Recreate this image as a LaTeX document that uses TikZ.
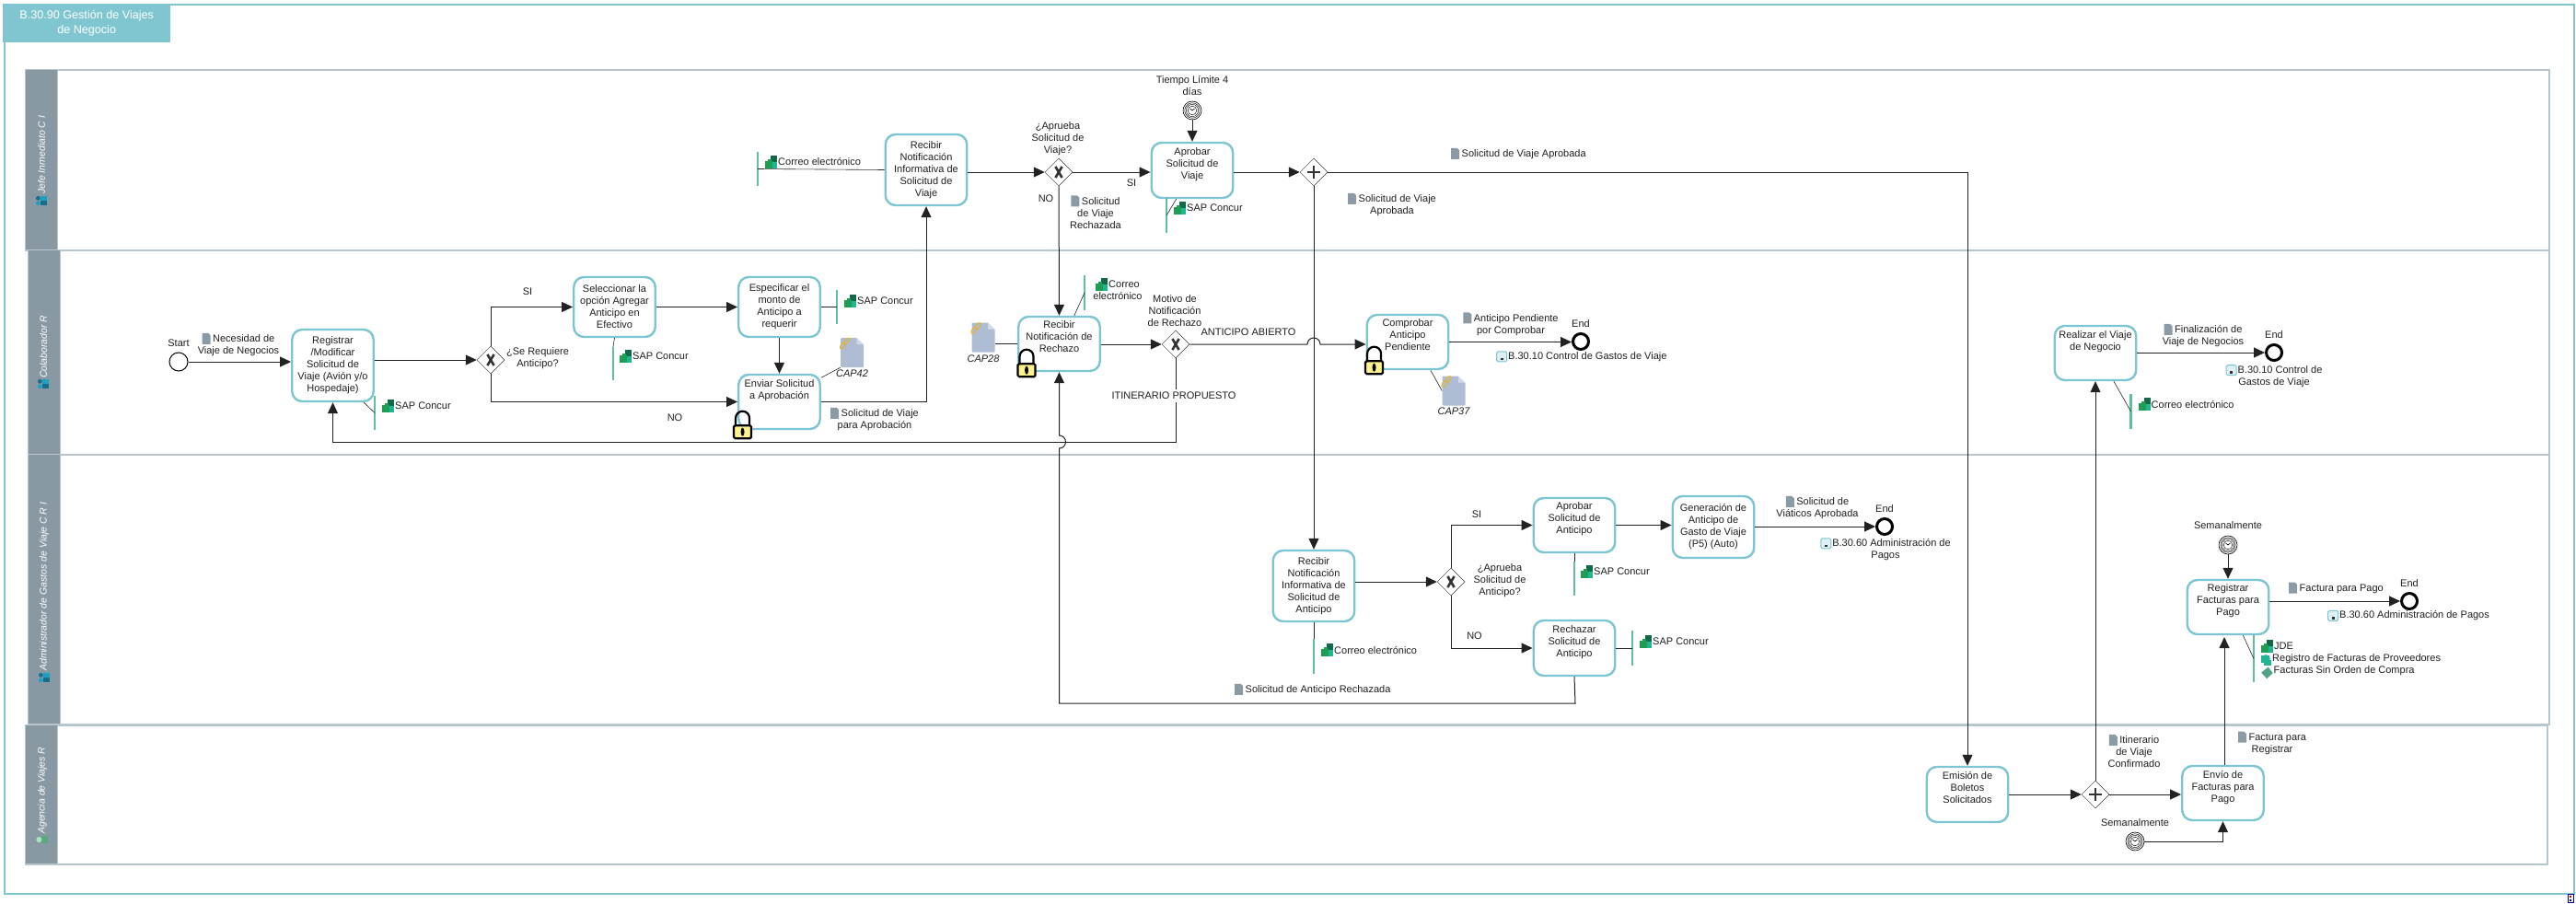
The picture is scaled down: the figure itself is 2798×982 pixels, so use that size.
\documentclass[tikz,border=0pt]{standalone}
\usepackage{fontspec}
\setmainfont{Liberation Sans}
\usetikzlibrary{shapes.geometric, arrows.meta, positioning, calc}
\definecolor{frameteal}{HTML}{7FC6D0}
\definecolor{taskteal}{HTML}{7CC5D2}
\definecolor{laneline}{HTML}{B7C6CC}
\definecolor{lanehead}{HTML}{8899A3}
\definecolor{docgray}{HTML}{8A9BA6}
\definecolor{barGreen}{HTML}{5FBF9F}
\definecolor{softgreen}{HTML}{1E9E55}
\definecolor{softdark}{HTML}{12694A}
\definecolor{softlight}{HTML}{22B592}
\definecolor{capblue}{HTML}{AEBCD4}
\definecolor{capgold}{HTML}{E8B422}
\definecolor{lockyellow}{HTML}{FFF28C}
\definecolor{flowgray}{HTML}{222222}
\definecolor{personblue}{HTML}{1F9FC4}
\definecolor{persongreen}{HTML}{6FD39C}
\newcommand{\lblfont}{\fontsize{11}{13}\selectfont\color{black!88}}
% small marks set inside the labels
\newcommand{\docmark}{\smash{\tikz[x=1pt,y=1pt,baseline=2pt]{\fill[docgray] (0,0) -- (0,12) -- (6.5,12) -- (9,9.5) -- (9,0) -- cycle;}}\hspace{2.5pt}}
\newcommand{\softmark}{\smash{\tikz[x=1pt,y=1pt,baseline=3pt]{
  \fill[softdark] (6,7) rectangle (13,14);
  \fill[softgreen] (0,0) rectangle (8,8); \fill[softgreen] (3,8) rectangle (7,10);
  \fill[softlight] (8,0) rectangle (13,7);}}\hspace{1pt}}
\newcommand{\rulemark}{\smash{\tikz[x=1pt,y=1pt,baseline=3pt]{
  \fill[softlight] (0,2) rectangle (9,10); \fill[softlight] (3,-1) rectangle (11,5);
  \fill[softlight] (5,6) circle (4.5pt);}}\hspace{1pt}}
\newcommand{\policymark}{\smash{\tikz[x=1pt,y=1pt,baseline=3pt]{
  \fill[barGreen!85!black] (6.5,-2.5) -- (13,3.5) -- (8,10) -- (0.5,4) -- cycle;}}\hspace{1pt}}
\newcommand{\linkmark}{\smash{\tikz[x=1pt,y=1pt,baseline=2.5pt]{
  \draw[taskteal, fill=taskteal!25, line width=1pt, rounded corners=1.5pt] (0,0) rectangle (11,11);
  \fill[black!80] (4.2,1.5) rectangle (6.8,4.2);}}\hspace{1pt}}
\tikzset{
  task/.style={
    rectangle, rounded corners=11pt, draw=taskteal, line width=2.4pt, fill=white,
    minimum width=88.5pt, minimum height=#1, inner sep=1pt, align=center, font=\lblfont
  },
  lbl/.style={inner sep=0pt, align=center, font=\lblfont},
  flow/.style={-{Triangle[length=12pt,width=11pt]}, line width=1pt, color=flowgray},
  assoc/.style={line width=0.6pt, color=black!85},
  annobar/.style={rectangle, fill=barGreen, minimum width=2.2pt, minimum height=#1, inner sep=0pt},
  gate/.style={diamond, aspect=1, draw=black!80, line width=0.5pt, fill=white, minimum size=30pt, inner sep=0pt},
  gatex/.style={gate, path picture={
    \draw[line width=2.6pt] ($(path picture bounding box.center)+(-3.6pt,-6pt)$) -- ++(7.2pt,12pt);
    \draw[line width=2.6pt] ($(path picture bounding box.center)+(3.6pt,-6pt)$) -- ++(-7.2pt,12pt);}},
  gateplus/.style={gate, path picture={
    \draw[line width=2.2pt] ($(path picture bounding box.center)+(-7pt,0pt)$) -- ++(14pt,0pt);
    \draw[line width=2.2pt] ($(path picture bounding box.center)+(0pt,-7pt)$) -- ++(0pt,14pt);}},
  startevent/.style={circle, draw=black, line width=1pt, fill=white, minimum size=20pt, inner sep=0pt},
  endevent/.style={circle, draw=black, line width=3pt, fill=white, minimum size=17pt, inner sep=0pt},
  timer/.style={circle, draw=black, line width=0.6pt, fill=white, minimum size=20pt, inner sep=0pt, path picture={
    \foreach \rr in {8.2,6.6} \draw[line width=0.45pt] (path picture bounding box.center) circle (\rr pt);
    \draw[line width=0.45pt, fill=white] (path picture bounding box.center) circle (4.8pt);
    \draw[line width=0.6pt] ($(path picture bounding box.center)+(-2.5pt,2pt)$) -- (path picture bounding box.center) -- ++(2.5pt,2pt);}},
  capdoc/.style={rectangle, fill=capblue, rounded corners=1pt, minimum width=25pt, minimum height=32pt, inner sep=0pt},
  lanebody/.style={rectangle, draw=laneline, line width=1.6pt, anchor=north west, inner sep=0pt},
  laneheader/.style={rectangle, fill=lanehead, draw=laneline, line width=0.8pt, anchor=north west, inner sep=0pt, minimum width=35pt},
  lanename/.style={rotate=90, anchor=west, inner sep=0pt, text=white, font=\fontsize{10.5}{13}\selectfont\itshape},
  capmark/.pic={
    \fill[white] (4.5,-16.5) -- (13,-16.5) -- (13,-8) -- cycle;
    \fill[capblue!55!white] (5,-16) -- (5,-9) -- (12.5,-9) -- cycle;
    \draw[capgold, line width=1pt, shift={(-8,-10)}, rotate=50] (-3.4pt,0pt) ellipse (4pt and 2.1pt);
    \draw[capgold, line width=1pt, shift={(-8,-10)}, rotate=50] (3.4pt,0pt) ellipse (4pt and 2.1pt);
  },
  lockmark/.pic={
    \draw[black, line width=2.2pt] (-7.5,1) -- (-7.5,-8) arc[start angle=180, end angle=0, radius=7.5pt] -- (7.5,1);
    \draw[black, fill=lockyellow, line width=2.2pt, rounded corners=1.5pt] (-9.5,0) rectangle (9.5,14);
    \fill[black] (0,7) ellipse (2pt and 4.5pt);
  },
  twinmark/.pic={
    \fill[personblue] (-1,-5) rectangle (6,-0.4); \fill[personblue!70!black] (-3.6,-2.7) circle (2.4pt);
    \fill[personblue!70!black] (-1,0.4) rectangle (6,5); \fill[personblue] (-3.6,2.7) circle (2.4pt);
  },
  singlemark/.pic={
    \fill[persongreen!80!black] (-1,-4) rectangle (6,4); \fill[persongreen!60!white] (-3.6,0) circle (3pt);
  }
}

\begin{document}
\begin{tikzpicture}[x=1pt, y=-1pt]
  \useasboundingbox (0,0) rectangle (2798,982);

  % Outer frame and title
  \node[rectangle, draw=frameteal, line width=2.4pt, anchor=north west, minimum width=2791pt, minimum height=966pt, inner sep=0pt] (frame) at (4,4) {};
  \node[rectangle, fill=frameteal, anchor=north west, minimum width=182pt, minimum height=42pt, align=center, text=white, inner sep=0pt,
    font=\fontsize{12.6}{16}\selectfont] (title) at (3,4) {B.30.90 Gestión de Viajes\\de Negocio};

  % Lanes
  \node[lanebody, minimum width=2741pt, minimum height=196pt] (lanejefe) at (27,75) {};
  \node[laneheader, minimum height=196pt] (headjefe) at (27,75) {};
  \node[lanebody, minimum width=2738pt, minimum height=222pt] (lanecolab) at (30,271) {};
  \node[laneheader, minimum height=222pt] (headcolab) at (30,271) {};
  \node[lanebody, minimum width=2738pt, minimum height=293pt] (laneadmin) at (30,493) {};
  \node[laneheader, minimum height=293pt] (headadmin) at (30,493) {};
  \node[lanebody, minimum width=2739pt, minimum height=151pt] (laneagencia) at (27,787) {};
  \node[laneheader, minimum height=151pt] (headagencia) at (27,787) {};

  \node[lanename] (namejefe) at (45,211) {Jefe Inmediato C I};
  \pic at (45,218) {twinmark};
  \node[lanename] (namecolab) at (47,411) {Colaborador R};
  \pic at (47,417) {twinmark};
  \node[lanename] (nameadmin) at (48,729) {Administrador de Gastos de Viaje C R I};
  \pic at (48,736) {twinmark};
  \node[lanename] (nameagencia) at (46,906) {Agencia de Viajes R};
  \pic at (46,912) {singlemark};

  % Tasks
  \node[task=78pt] (registrar) at (361.5,397) {Registrar\\/Modificar\\Solicitud de\\Viaje (Avión y/o\\Hospedaje)};
  \node[task=65pt] (seleccionar) at (667.5,333.5) {Seleccionar la\\opción Agregar\\Anticipo en\\Efectivo};
  \node[task=65pt] (especificar) at (846.5,333.5) {Especificar el\\monto de\\Anticipo a\\requerir};
  \node[task=59pt, text depth=27pt] (enviar) at (846.5,436.5) {Enviar Solicitud\\a Aprobación};
  \node[task=77pt] (recibirinfo) at (1006,184.5) {Recibir\\Notificación\\Informativa de\\Solicitud de\\Viaje};
  \node[task=60pt, text depth=15pt] (aprobarviaje) at (1295,185) {Aprobar\\Solicitud de\\Viaje};
  \node[task=59pt, text depth=15pt] (recibirrechazo) at (1150.5,373.5) {Recibir\\Notificación de\\Rechazo};
  \node[task=59pt, text depth=15pt] (comprobar) at (1529,371.5) {Comprobar\\Anticipo\\Pendiente};
  \node[task=77pt] (recibiranticipo) at (1427,636.5) {Recibir\\Notificación\\Informativa de\\Solicitud de\\Anticipo};
  \node[task=59pt, text depth=15pt] (aprobaranticipo) at (1710,570.5) {Aprobar\\Solicitud de\\Anticipo};
  \node[task=67pt] (generacion) at (1861,572.5) {Generación de\\Anticipo de\\Gasto de Viaje\\(P5) (Auto)};
  \node[task=60pt, text depth=15pt] (rechazar) at (1710,704) {Rechazar\\Solicitud de\\Anticipo};
  \node[task=59pt, text depth=27pt] (realizar) at (2276,383.5) {Realizar el Viaje\\de Negocio};
  \node[task=59pt, text depth=15pt] (registrarfacturas) at (2420,659.5) {Registrar\\Facturas para\\Pago};
  \node[task=60pt, text depth=15pt] (emision) at (2137,863) {Emisión de\\Boletos\\Solicitados};
  \node[task=59pt, text depth=15pt] (envio) at (2414.5,861.5) {Envío de\\Facturas para\\Pago};

  % Gateways
  \node[gatex] (requiere) at (533,391) {};
  \node[gatex] (apruebaviaje) at (1150,187) {};
  \node[gateplus] (parviaje) at (1427,187) {};
  \node[gatex] (motivo) at (1277,374) {};
  \node[gatex] (apruebaanticipo) at (1576,632) {};
  \node[gateplus] (parboletos) at (2276,863) {};

  % Events
  \node[startevent] (start) at (194,393) {};
  \node[lbl, above=6pt of start] (startlbl) {Start};
  \node[endevent] (endcomprobar) at (1717,371) {};
  \node[lbl, above=5pt of endcomprobar] (endcomprobarlbl) {End};
  \node[endevent] (endgeneracion) at (2047,572) {};
  \node[lbl, above=5pt of endgeneracion] (endgeneracionlbl) {End};
  \node[endevent] (endrealizar) at (2470,383) {};
  \node[lbl, above=5pt of endrealizar] (endrealizarlbl) {End};
  \node[endevent] (endfacturas) at (2617,653) {};
  \node[lbl, above=5pt of endfacturas] (endfacturaslbl) {End};
  \node[timer] (timerviaje) at (1295,120) {};
  \node[lbl, above=6pt of timerviaje] (timerviajelbl) {Tiempo Límite 4\\días};
  \node[timer] (timerfacturas) at (2420,592) {};
  \node[lbl, above=7pt of timerfacturas] (timerfacturaslbl) {Semanalmente};
  \node[timer] (timerenvio) at (2319,914) {};
  \node[lbl, above=6pt of timerenvio] (timerenviolbl) {Semanalmente};

  % Sequence flows
  \draw[flow] (start.east) -- (start.east -| registrar.west);
  \draw[flow] (registrar.east |- requiere.west) -- (requiere.west);
  \draw[flow] (requiere.north) |- (seleccionar.west);
  \draw[flow] (requiere.south) |- (enviar.west);
  \draw[flow] (seleccionar.east) -- (especificar.west);
  \draw[flow] (especificar.south) -- (enviar.north);
  \draw[flow] (enviar.east) -| (recibirinfo.south);
  \draw[flow] (recibirinfo.east |- apruebaviaje.west) -- (apruebaviaje.west);
  \draw[flow] (apruebaviaje.east) -- (apruebaviaje.east -| aprobarviaje.west);
  \draw[flow] (apruebaviaje.south) -- (recibirrechazo.north);
  \draw[flow] (timerviaje.south) -- (aprobarviaje.north);
  \draw[flow] (aprobarviaje.east |- parviaje.west) -- (parviaje.west);
  \draw[flow] (parviaje.east) -| (emision.north);
  \draw[flow] (parviaje.south) -- (recibiranticipo.north);
  \draw[flow] (recibirrechazo.east |- motivo.west) -- (motivo.west);

  % Flows that cross another line get a small hump
  \coordinate (humpabierto) at (1427,374);
  \coordinate (humprechazo) at (1150.5,480);
  \coordinate (itinerario) at (1277,480);
  \coordinate (anticiporechazado) at (1711,764);
  \draw[flow] (motivo.east) -- ($(humpabierto)+(-7,0)$) arc[start angle=180, end angle=0, radius=7pt] -- (motivo.east -| comprobar.west);
  \draw[flow] (motivo.south) -- (itinerario) -- (itinerario -| registrar.south) -- (registrar.south);
  \draw[flow] (rechazar.south) -- (anticiporechazado) -- (anticiporechazado -| recibirrechazo.south) -- ($(humprechazo)+(0,7)$)
    arc[start angle=-90, end angle=90, radius=7pt] -- (recibirrechazo.south);

  \draw[flow] (comprobar.east) -- (comprobar.east -| endcomprobar.west);
  \draw[flow] (recibiranticipo.east |- apruebaanticipo.west) -- (apruebaanticipo.west);
  \draw[flow] (apruebaanticipo.north) |- (aprobaranticipo.west);
  \draw[flow] (apruebaanticipo.south) |- (rechazar.west);
  \draw[flow] (aprobaranticipo.east) -- (aprobaranticipo.east -| generacion.west);
  \draw[flow] (generacion.east |- endgeneracion.west) -- (endgeneracion.west);
  \draw[flow] (parboletos.north) -- (realizar.south);
  \draw[flow] (realizar.east |- endrealizar.west) -- (endrealizar.west);
  \draw[flow] (emision.east) -- (parboletos.west);
  \draw[flow] (parboletos.east) -- (parboletos.east -| envio.west);
  \draw[flow] (timerenvio.east) -| (envio.south);
  \coordinate (facturasin) at (2416,692);
  \draw[flow] (facturasin |- envio.north) -- (facturasin);
  \draw[flow] (timerfacturas.south) -- (registrarfacturas.north);
  \draw[flow] (registrarfacturas.east |- endfacturas.west) -- (endfacturas.west);

  % Annotation bars with their systems
  \node[annobar=37pt] (barregistrar) at (407,448.5) {};
  \draw[assoc] (registrar.-50) -- (barregistrar.center);
  \node[lbl, anchor=west] (sapregistrar) at (415,441) {\softmark SAP Concur};

  \node[annobar=36pt] (barseleccionar) at (666,395) {};
  \draw[assoc] (seleccionar.south) -- (barseleccionar.north);
  \node[lbl, anchor=west] (sapseleccionar) at (673,387) {\softmark SAP Concur};

  \node[annobar=37pt] (barespecificar) at (909,333.5) {};
  \draw[assoc] (especificar.east) -- (barespecificar.center);
  \node[lbl, anchor=west] (sapespecificar) at (917,327) {\softmark SAP Concur};

  \node[annobar=37pt] (barinfo) at (823,183.5) {};
  \draw[assoc] (recibirinfo.west) -- (barinfo.center);
  \node[lbl, anchor=west] (correoinfo) at (831,176) {\softmark Correo electrónico};

  \node[annobar=38pt] (baraprobar) at (1267,234) {};
  \draw[assoc] (aprobarviaje.-119) -- (baraprobar.center);
  \node[lbl, anchor=west] (sapaprobar) at (1275,226) {\softmark SAP Concur};

  \node[annobar=38pt] (barrechazo) at (1178,318) {};
  \draw[assoc] (recibirrechazo.62) -- (barrechazo.center);
  \node[lbl, anchor=north] (correorechazo) at (1214,305) {\softmark Correo\\electrónico};

  \node[annobar=38pt] (baranticipo) at (1427,713) {};
  \draw[assoc] (recibiranticipo.south) -- (baranticipo.north);
  \node[lbl, anchor=west] (correoanticipo) at (1435,706) {\softmark Correo electrónico};

  \node[annobar=37pt] (baraprobaranticipo) at (1710,628.5) {};
  \draw[assoc] (aprobaranticipo.south) -- (baraprobaranticipo.north);
  \node[lbl, anchor=west] (sapaprobaranticipo) at (1717,621) {\softmark SAP Concur};

  \node[annobar=38pt] (barrechazar) at (1773,704) {};
  \draw[assoc] (rechazar.east) -- (barrechazar.center);
  \node[lbl, anchor=west] (saprechazar) at (1781,697) {\softmark SAP Concur};

  \node[annobar=38pt] (barrealizar) at (2314.5,447) {};
  \draw[assoc] (realizar.-57) -- (barrealizar.center);
  \node[lbl, anchor=west] (correorealizar) at (2322.5,439) {\softmark Correo electrónico};

  \node[annobar=51pt] (barfacturas) at (2448,715.5) {};
  \draw[assoc] (registrarfacturas.-62) -- (barfacturas.center);
  \node[lbl, anchor=west, align=left] (sistemasfacturas) at (2456,716) {\softmark JDE\\\rulemark Registro de Facturas de Proveedores\\\policymark Facturas Sin Orden de Compra};

  % Attached documents and locks
  \node[capdoc] (cap42) at (925.5,383) {};
  \pic at (cap42.center) {capmark};
  \node[lbl, font=\lblfont\itshape, below=2pt of cap42] (cap42lbl) {CAP42};
  \draw[assoc] (enviar.30) -- (cap42.south west);
  \node[capdoc] (cap28) at (1068,366.5) {};
  \pic at (cap28.center) {capmark};
  \node[lbl, font=\lblfont\itshape, below=3pt of cap28] (cap28lbl) {CAP28};
  \draw[assoc] (recibirrechazo.west) -- (cap28.east |- recibirrechazo.west);
  \node[capdoc] (cap37) at (1579,424.5) {};
  \pic at (cap37.center) {capmark};
  \node[lbl, font=\lblfont\itshape, below=2pt of cap37] (cap37lbl) {CAP37};
  \draw[assoc] (comprobar.-51) -- (cap37.west);
  \pic at ($(enviar.south west)+(5.5,-5)$) {lockmark};
  \pic at ($(recibirrechazo.south west)+(10,-9)$) {lockmark};
  \pic at ($(comprobar.south west)+(9,-10)$) {lockmark};

  % Flow labels
  \node[lbl] (lblnecesidad) at (259,375.5) {\docmark Necesidad de\\Viaje de Negocios};
  \node[lbl] (lblrequiere) at (584,389.5) {¿Se Requiere\\Anticipo?};
  \node[lbl] (lblsirequiere) at (573,317) {SI};
  \node[lbl] (lblnorequiere) at (733,454) {NO};
  \node[lbl] (lblaprobacion) at (950,456.5) {\docmark Solicitud de Viaje\\para Aprobación};
  \node[lbl] (lblapruebaviaje) at (1149,151) {¿Aprueba\\Solicitud de\\Viaje?};
  \node[lbl] (lblsiviaje) at (1229,199) {SI};
  \node[lbl] (lblnoviaje) at (1136,216) {NO};
  \node[lbl] (lblrechazada) at (1190,231.5) {\docmark Solicitud\\de Viaje\\Rechazada};
  \node[lbl] (lblaprobadados) at (1512,223.5) {\docmark Solicitud de Viaje\\Aprobada};
  \node[lbl, anchor=west] (lblaprobada) at (1576,168) {\docmark Solicitud de Viaje Aprobada};
  \node[lbl] (lblmotivo) at (1276,338) {Motivo de\\Notificación\\de Rechazo};
  \node[lbl] (lblabierto) at (1356,361) {ANTICIPO ABIERTO};
  \node[lbl, fill=white, inner ysep=3pt] (lblpropuesto) at (1275,430) {ITINERARIO PROPUESTO};
  \node[lbl] (lblpendiente) at (1641,353) {\docmark Anticipo Pendiente\\por Comprobar};
  \node[lbl, anchor=west] (lblcontrol) at (1625,387.5) {\linkmark B.30.10 Control de Gastos de Viaje};
  \node[lbl] (lblapruebaanticipo) at (1629,631) {¿Aprueba\\Solicitud de\\Anticipo?};
  \node[lbl] (lblsianticipo) at (1604,559) {SI};
  \node[lbl] (lblnoanticipo) at (1601.5,691) {NO};
  \node[lbl] (lblviaticos) at (1974,552.5) {\docmark Solicitud de\\Viáticos Aprobada};
  \node[lbl, anchor=north] (lblpagosdos) at (2048,585) {\linkmark B.30.60 Administración de\\Pagos};
  \node[lbl, anchor=west] (lblrechazadaant) at (1341,750) {\docmark Solicitud de Anticipo Rechazada};
  \node[lbl] (lblfinal) at (2393,365.5) {\docmark Finalización de\\Viaje de Negocios};
  \node[lbl, anchor=north] (lblcontroldos) at (2470,397) {\linkmark B.30.10 Control de\\Gastos de Viaje};
  \node[lbl, anchor=west] (lblfactura) at (2486,640) {\docmark Factura para Pago};
  \node[lbl, anchor=west] (lblpagos) at (2528,669) {\linkmark B.30.60 Administración de Pagos};
  \node[lbl] (lblitinerario) at (2318,817) {\docmark Itinerario\\de Viaje\\Confirmado};
  \node[lbl] (lblregistrar) at (2468,808.5) {\docmark Factura para\\Registrar};

  % Corner mark
  \node[rectangle, draw=blue!60!black, fill=white, line width=0.8pt, minimum width=6pt, minimum height=9pt, inner sep=0pt] (cornermark) at (2792,976) {};
  \fill[red!80!black] (2791,973) rectangle (2793,975);
  \fill[blue!80!black] (2791,977) rectangle (2793,979);
\end{tikzpicture}
\end{document}
